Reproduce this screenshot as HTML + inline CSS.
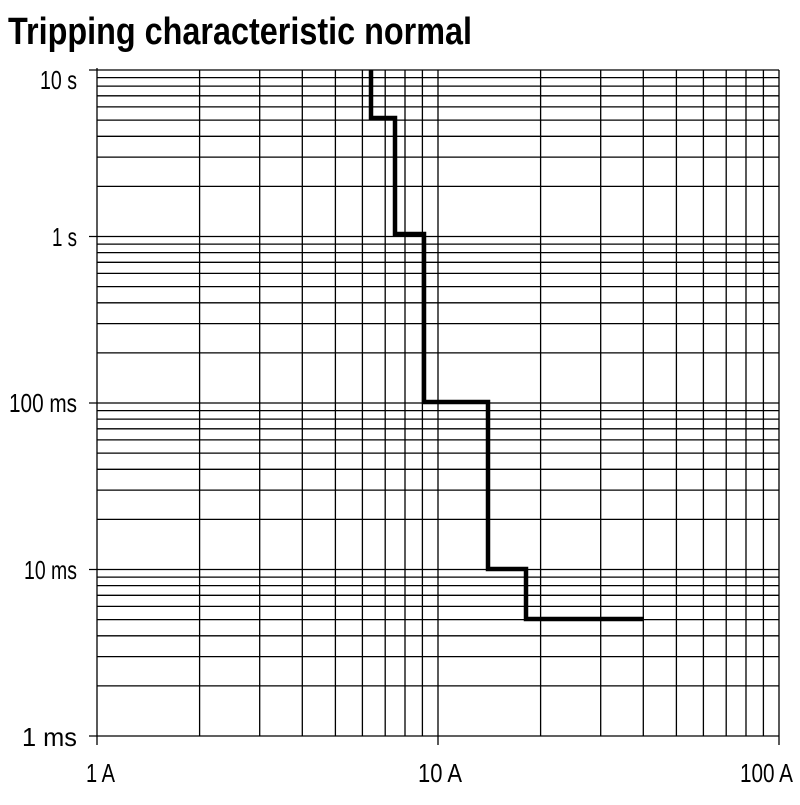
<!DOCTYPE html>
<html><head><style>
body{margin:0;background:#fff;width:800px;height:800px;overflow:hidden}
</style></head><body>
<svg width="800" height="800" xmlns="http://www.w3.org/2000/svg">
<text x="8" y="44" font-family="Liberation Sans Narrow, Liberation Sans, sans-serif" font-weight="bold" font-size="38" textLength="464" lengthAdjust="spacingAndGlyphs">Tripping characteristic normal</text>
<path fill="none" stroke="#000" stroke-width="1.3" d="
M97 70H779 M97 736H779 M97 685.9H779 M97 656.6H779 M97 635.8H779 M97 619.6H779 M97 606.4H779 M97 595.3H779 M97 585.6H779 M97 577.1H779
M97 569.5H779 M97 519.4H779 M97 490.1H779 M97 469.3H779 M97 453.1H779 M97 439.9H779 M97 428.8H779 M97 419.1H779 M97 410.6H779
M97 403H779 M97 352.9H779 M97 323.6H779 M97 302.8H779 M97 286.6H779 M97 273.4H779 M97 262.3H779 M97 252.6H779 M97 244.1H779
M97 236.5H779 M97 186.4H779 M97 157.1H779 M97 136.3H779 M97 120.1H779 M97 106.9H779 M97 95.8H779 M97 86.1H779 M97 77.6H779
M97 68V745 M199.6 70V736 M259.7 70V736 M302.3 70V736 M335.4 70V736 M362.4 70V736 M385.2 70V736 M405 70V736 M422.4 70V736
M438 70V745 M540.6 70V736 M600.7 70V736 M643.3 70V736 M676.4 70V736 M703.4 70V736 M726.2 70V736 M746 70V736 M763.4 70V736 M779 70V745
M89 70H97 M89 236.5H97 M89 403H97 M89 569.5H97 M89 736H97"/>
<g font-family="Liberation Sans Narrow, Liberation Sans, sans-serif" font-size="26" fill="#000">
<text x="40" y="89" textLength="37" lengthAdjust="spacingAndGlyphs">10 s</text>
<text x="52" y="246" textLength="25" lengthAdjust="spacingAndGlyphs">1 s</text>
<text x="9" y="412" textLength="68" lengthAdjust="spacingAndGlyphs">100 ms</text>
<text x="24" y="579" textLength="53" lengthAdjust="spacingAndGlyphs">10 ms</text>
<text x="22" y="746" textLength="55" lengthAdjust="spacingAndGlyphs">1 ms</text>
<text x="86" y="782" textLength="29" lengthAdjust="spacingAndGlyphs">1 A</text>
<text x="418" y="782" textLength="44" lengthAdjust="spacingAndGlyphs">10 A</text>
<text x="740" y="782" textLength="53" lengthAdjust="spacingAndGlyphs">100 A</text>
</g>
<polyline fill="none" stroke="#000" stroke-width="4.5" points="371,70 371,118 395,118 395,234 424,234 424,402 488,402 488,569 526,569 526,619 644,619"/>
</svg>
</body></html>
